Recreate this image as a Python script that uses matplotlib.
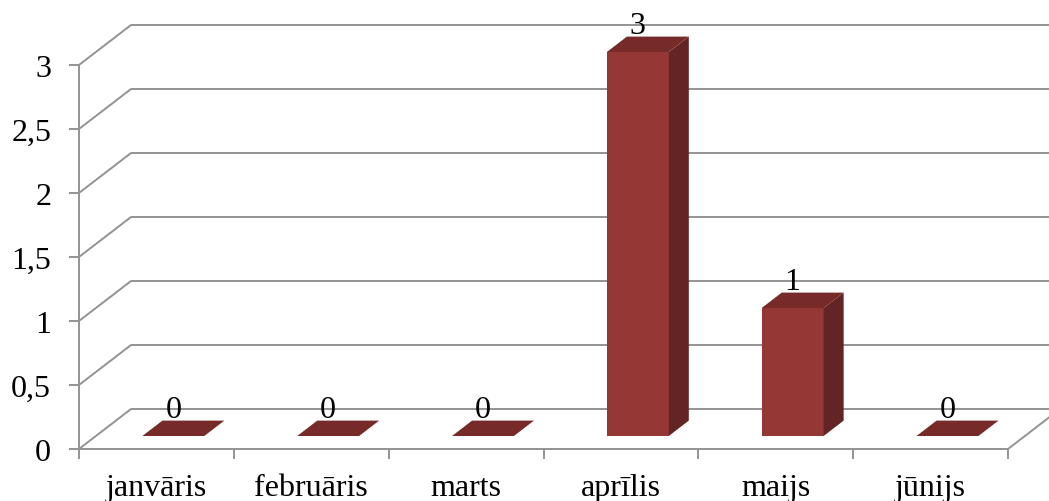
import matplotlib.pyplot as plt
from matplotlib.patches import Polygon
import numpy as np

months = ['janvāris', 'februāris', 'marts', 'aprīlis', 'maijs', 'jūnijs']
counts = [0, 0, 0, 3, 1, 0]
yticks = [0, 0.5, 1, 1.5, 2, 2.5, 3]

plt.rcParams['font.family'] = ['Liberation Serif', 'DejaVu Serif']

# depth of the fake 3D box, in data units
DX, DY = 0.336, 0.3125
Z0, Z1 = 0.325, 0.71   # bar front / back as a fraction of depth
W = 0.4                # bar width
grid_c = '#939393'
FS = 23

fig = plt.figure(figsize=(10.49, 5.02), dpi=100)
ax = fig.add_axes([79/1049, 52/502, 929/1049, 384/502])
ax.set_xlim(0, len(months))
ax.set_ylim(0, 3)

for s in ['top', 'right']:
    ax.spines[s].set_visible(False)
for s in ['left', 'bottom']:
    ax.spines[s].set_color(grid_c)
    ax.spines[s].set_linewidth(1.4)

# back wall gridlines + connectors from front axis
for v in yticks:
    ax.plot([0, DX, len(months) + DX], [v, v + DY, v + DY], color=grid_c,
            lw=1.4, clip_on=False, zorder=1)
ax.plot([len(months), len(months) + DX], [0, DY], color=grid_c, lw=1.4,
        clip_on=False, zorder=1)

front_c, side_c, top_c = '#953735', '#632523', '#772B29'
for i, v in enumerate(counts):
    xl = i + 0.5 - W/2 + Z0*DX
    xr = xl + W
    yb = Z0*DY
    yt = yb + v
    ddx, ddy = (Z1 - Z0)*DX, (Z1 - Z0)*DY
    if v > 0:
        ax.add_patch(Polygon([(xl, yb), (xr, yb), (xr, yt), (xl, yt)],
                             closed=True, fc=front_c, ec='none', zorder=3, clip_on=False))
        ax.add_patch(Polygon([(xr, yb), (xr + ddx, yb + ddy), (xr + ddx, yt + ddy), (xr, yt)],
                             closed=True, fc=side_c, ec='none', zorder=3, clip_on=False))
    ax.add_patch(Polygon([(xl, yt), (xr, yt), (xr + ddx, yt + ddy), (xl + ddx, yt + ddy)],
                         closed=True, fc=top_c, ec='none', zorder=3, clip_on=False))
    ax.text((xl + xr)/2, yt + ddy + 0.025, str(v), ha='center', va='baseline',
            fontsize=FS, zorder=4, clip_on=False)

ax.set_yticks(yticks)
ax.set_yticklabels([('%g' % t).replace('.', ',') for t in yticks])
ax.tick_params(axis='y', length=7, width=1.4, color=grid_c, labelsize=FS, pad=13)

ax.set_xticks(np.arange(len(months) + 1))
ax.set_xticklabels([])
ax.set_xticks(np.arange(len(months)) + 0.5, minor=True)
ax.set_xticklabels(months, minor=True)
ax.tick_params(axis='x', which='major', length=7, width=1.4, color=grid_c)
ax.tick_params(axis='x', which='minor', length=0, labelsize=FS, pad=17)

fig.savefig('out.png', dpi=100)
